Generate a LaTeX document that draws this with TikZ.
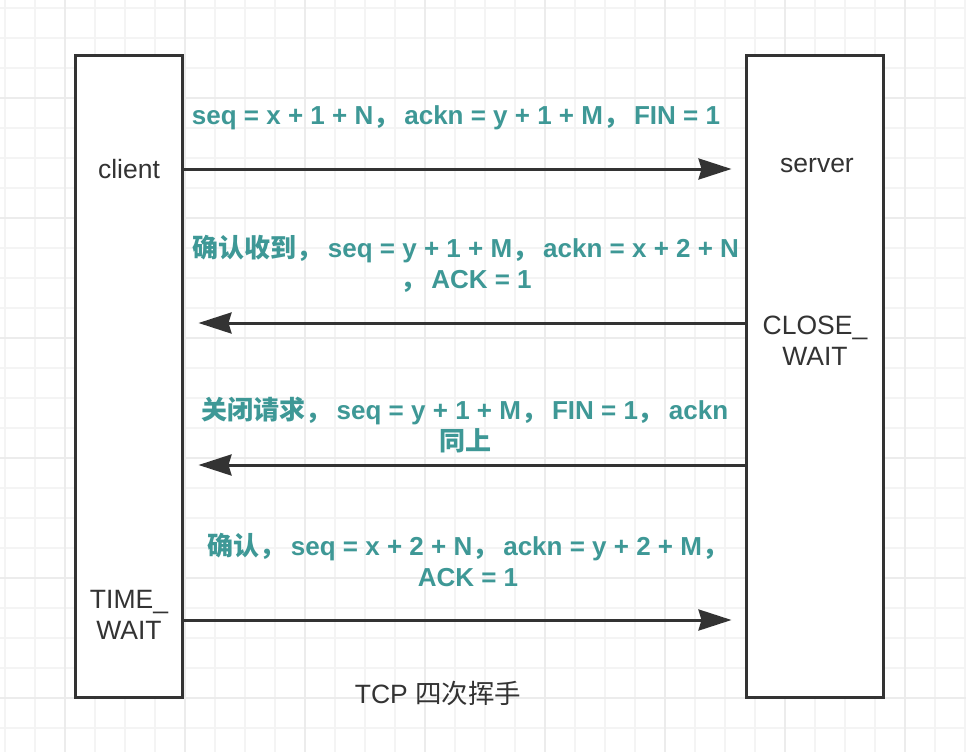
\documentclass[tikz,border=0pt]{standalone}
\usepackage{fontspec}
\setmainfont{Liberation Sans}
\newfontfamily\cjk{Noto Sans CJK SC}
\newcommand\zh[1]{{\cjk #1}}
\newcommand\cm{\zh{，}\hspace{5pt}}
\usetikzlibrary{arrows.meta}
\definecolor{ink}{HTML}{333333}
\definecolor{tealtxt}{RGB}{62,152,150}
\definecolor{gridminor}{HTML}{F4F4F4}
\definecolor{gridmajor}{HTML}{ECECEC}
\tikzset{
  lifebox/.style={draw=ink, line width=3pt, fill=white, inner sep=0pt},
  plain/.style={text=ink, font=\fontsize{26.5}{31}\selectfont, align=center, inner sep=0pt},
  msg/.style={text=tealtxt, font=\fontsize{26}{31}\selectfont\bfseries, align=center, inner sep=0pt},
  arrowline/.style={draw=ink, line width=3pt, -{Stealth[length=33pt, width=21pt, inset=3pt]}},
}
\begin{document}
\begin{tikzpicture}[x=1pt,y=-1pt]
\fill[white] (0,0) rectangle (966,752);
\useasboundingbox (0,0) rectangle (966,752);
% grid
\foreach \x in {5,35,...,965} \draw[gridminor, line width=1.4pt] (\x,0) -- (\x,752);
\foreach \y in {8,38,...,752} \draw[gridminor, line width=1.4pt] (0,\y) -- (966,\y);
\foreach \x in {65,185,...,905} \draw[gridmajor, line width=1.4pt] (\x,0) -- (\x,752);
\foreach \y in {98,218,...,698} \draw[gridmajor, line width=1.4pt] (0,\y) -- (966,\y);
% life boxes
\node[lifebox, minimum width=107pt, minimum height=641pt] (cbox) at (128.5,376.5) {};
\node[lifebox, minimum width=137pt, minimum height=641pt] (sbox) at (814.5,376.5) {};
% box labels
\node[plain] (client) at (129,169) {client};
\node[plain] (server) at (817,165) {server};
\node[plain] (closewait) at (815,341) {CLOSE\_\\WAIT};
\node[plain] (timewait) at (129,615) {TIME\_\\WAIT};
% message arrows
\coordinate (a1) at (0,169);
\coordinate (a2) at (0,323);
\coordinate (a3) at (0,465);
\coordinate (a4) at (0,620);
\draw[arrowline] (cbox.east |- a1) -- ([xshift=-13pt]sbox.west |- a1);
\draw[arrowline] (sbox.west |- a2) -- ([xshift=15pt]cbox.east |- a2);
\draw[arrowline] (sbox.west |- a3) -- ([xshift=15pt]cbox.east |- a3);
\draw[arrowline] (cbox.east |- a4) -- ([xshift=-13pt]sbox.west |- a4);
% message labels
\node[msg] (m1) at (456,118) {seq = x + 1 + N\cm ackn = y + 1 + M\cm FIN = 1};
\node[msg] (m2) at (466,264) {\zh{确认收到}\cm seq = y + 1 + M\cm ackn = x + 2 + N\\\cm ACK = 1};
\node[msg] (m3) at (465,425) {\zh{关闭请求}\cm seq = y + 1 + M\cm FIN = 1\cm ackn\\\zh{同上}};
\node[msg] (m4) at (468,560) {\zh{确认}\cm seq = x + 2 + N\cm ackn = y + 2 + M\zh{，}\\ACK = 1};
% title
\node[plain] (title) at (438,693) {TCP \zh{四次挥手}};
\end{tikzpicture}
\end{document}
